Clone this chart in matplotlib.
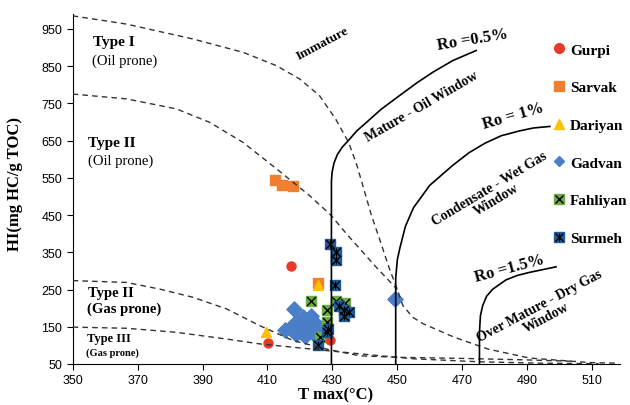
import matplotlib
matplotlib.use('Agg')
import matplotlib.pyplot as plt
from matplotlib.lines import Line2D

# kerogen type boundaries (Tmax, HI)
type1_t  = [350, 366.5, 387, 402.5, 412.8, 420, 426, 431, 435, 437.5, 439.5, 442, 444.5, 447.6, 450, 451.7, 454.8, 458, 467.5, 478, 490.7, 509, 518]
type1_hi = [985, 963, 923, 887, 851, 815, 771, 708, 645, 585, 525, 450, 386, 305, 250, 207, 175, 158, 122, 90, 66, 54, 52]

type2_t  = [350, 366.6, 382, 392.2, 402.5, 412.8, 423, 429.5, 434.3, 439.4, 443.5, 450]
type2_hi = [775, 762, 735, 699, 645, 574, 502, 450, 400, 350, 310, 250]

type2g_t  = [350, 366.6, 376.9, 387.1, 397.4, 407.6, 417.9, 428.2, 438.4, 450, 470, 490, 505]
type2g_hi = [274, 269, 251, 229, 198, 153, 113, 90, 72, 68, 65, 61, 57]

type3_t  = [350, 366.6, 382, 397.4, 407.6, 417.9, 428.2, 440, 455, 475, 495, 512]
type3_hi = [149, 146, 135, 117, 104, 95, 86, 76, 64, 56, 52, 51]

# vitrinite reflectance lines
ro05_t  = [429.7, 429.7, 429.9, 430.5, 431.5, 433, 435, 437.5, 440.5, 445, 450.7, 456, 461, 467.1, 474.3]
ro05_hi = [50, 540, 565, 590, 612, 632, 651, 676, 699, 734, 771, 805, 834, 865, 892]

ro10_t  = [449.5, 449.5, 450, 450.8, 452.5, 455, 460, 467, 472, 477, 482, 487.6, 492, 497]
ro10_hi = [50, 280, 330, 362, 420, 470, 530, 583, 617, 643, 663, 676, 684, 688]

ro15_t  = [475.3, 475.3, 475.6, 476.3, 477.5, 479.4, 483.5, 487, 490.7, 498.9]
ro15_hi = [50, 135, 180, 207, 232, 251, 276, 288, 296, 311]

# samples
gurpi_t  = [417.2, 410.2, 429.2]
gurpi_hi = [312, 106, 115]

sarvak_t  = [412.3, 414.5, 418.0, 425.6]
sarvak_hi = [545, 530, 527, 268]

dariyan_t  = [409.5, 421.5, 425.6]
dariyan_hi = [137, 143, 263]

gadvan_t  = [418.2, 421.0, 423.5, 418.9, 422.0, 425.1, 416.9, 420.0, 423.0, 425.6, 418.9, 421.5, 415.3, 424.0, 449.2]
gadvan_hi = [198, 175, 178, 162, 162, 157, 146, 146, 146, 149, 131, 126, 140, 132, 225]

fahliyan_t  = [423.5, 428.2, 428.2, 431.2, 433.8, 426.1]
fahliyan_hi = [220, 196, 162, 220, 215, 122]

surmeh_t  = [429.2, 431.2, 431.2, 430.7, 432.0, 433.6, 435.1, 433.6, 428.6, 428.2, 425.6]
surmeh_hi = [372, 352, 328, 262, 207, 195, 190, 180, 144, 135, 101]

c_gurpi, c_sarvak, c_dariyan = '#E8392B', '#F0802F', '#FFC000'
c_gadvan, c_fahliyan, c_surmeh = '#4A7EC7', '#6AAE45', '#1F5C99'

serif = 'Liberation Serif'

fig = plt.figure(figsize=(6.3, 4.06), dpi=100)
ax = fig.add_axes([72.7/630, 41/406, 547/630, 350/406])

ax.scatter(gurpi_t, gurpi_hi, s=42, color=c_gurpi, zorder=3)
ax.scatter(sarvak_t, sarvak_hi, s=52, marker='s', color=c_sarvak, zorder=3)
ax.scatter(dariyan_t, dariyan_hi, s=50, marker='^', color=c_dariyan, zorder=3)
ax.scatter(gadvan_t, gadvan_hi, s=60, marker='D', color=c_gadvan, zorder=3)
ax.scatter(fahliyan_t, fahliyan_hi, s=52, marker='s', color=c_fahliyan, zorder=3)
ax.scatter(fahliyan_t, fahliyan_hi, s=40, marker='x', color='black', linewidths=1.0, zorder=3)
ax.scatter(surmeh_t, surmeh_hi, s=52, marker='s', color=c_surmeh, zorder=3)
ax.scatter(surmeh_t, surmeh_hi, s=40, marker='x', color='black', linewidths=1.0, zorder=3)
ax.scatter(surmeh_t, surmeh_hi, s=30, marker='|', color='black', linewidths=0.8, zorder=3)

dash = dict(color='#333333', lw=1.0, ls=(0, (4, 3)), zorder=4)
ax.plot(type1_t, type1_hi, **dash)
ax.plot(type2_t, type2_hi, **dash)
ax.plot(type2g_t, type2g_hi, **dash)
ax.plot(type3_t, type3_hi, **dash)

solid = dict(color='black', lw=1.2, zorder=4)
ax.plot(ro05_t, ro05_hi, **solid)
ax.plot(ro10_t, ro10_hi, **solid)
ax.plot(ro15_t, ro15_hi, **solid)

ax.set_xlim(350, 518.5)
ax.set_ylim(50, 990)
ax.set_xticks(range(350, 511, 20))
ax.set_yticks(range(50, 951, 100))
ax.spines['top'].set_visible(False)
ax.spines['right'].set_visible(False)
ax.tick_params(direction='out', length=4, width=0.8, labelsize=9)
for lab in ax.get_xticklabels() + ax.get_yticklabels():
    lab.set_fontfamily('Liberation Sans')

# region labels
bold = dict(family=serif, fontweight='bold')
ax.text(356.2, 916, 'Type I', fontsize=11, va='center', **bold)
ax.text(356.0, 865, '(Oil prone)', fontsize=10.5, va='center', family=serif)
ax.text(354.8, 646, 'Type II', fontsize=11, va='center', **bold)
ax.text(354.8, 596, '(Oil prone)', fontsize=10.5, va='center', family=serif)
ax.text(354.8, 243, 'Type II', fontsize=10.5, va='center', **bold)
ax.text(354.5, 200, '(Gas prone)', fontsize=10.5, va='center', **bold)
ax.text(354.5, 119, 'Type III', fontsize=9, va='center', **bold)
ax.text(354.0, 81, '(Gas prone)', fontsize=7.5, va='center', **bold)

ax.text(427, 912, 'Immature', fontsize=9.5, rotation=28, ha='center', va='center', **bold)
ax.text(457.4, 744, 'Mature - Oil Window', fontsize=10, rotation=30, ha='center', va='center', **bold)
ax.text(479.4, 507, 'Condensate - Wet Gas\nWindow', fontsize=10, rotation=31, ha='center', va='center',
        multialignment='center', linespacing=1.0, **bold)
ax.text(494.8, 192, 'Over Mature - Dry Gas\nWindow', fontsize=10, rotation=28, ha='center', va='center',
        multialignment='center', linespacing=1.0, **bold)

ax.text(473.2, 923, 'Ro =0.5%', fontsize=12, rotation=9.5, ha='center', va='center', **bold)
ax.text(485.6, 717, 'Ro = 1%', fontsize=12, rotation=16, ha='center', va='center', **bold)
ax.text(484.6, 307, 'Ro =1.5%', fontsize=12, rotation=15, ha='center', va='center', **bold)

fig.text(15/630, 1 - 184/406, 'HI(mg HC/g TOC)', rotation=90, ha='center', va='center',
         fontsize=12, **bold)
fig.text(336/630, 1 - 395/406, 'T max(°C)', ha='center', va='center', fontsize=12, **bold)

# legend
h_gurpi = Line2D([], [], ls='', marker='o', ms=7, color=c_gurpi)
h_sarvak = Line2D([], [], ls='', marker='s', ms=7, color=c_sarvak)
h_dariyan = Line2D([], [], ls='', marker='^', ms=7, color=c_dariyan)
h_gadvan = Line2D([], [], ls='', marker='D', ms=5.5, color=c_gadvan)
h_fahl = (Line2D([], [], ls='', marker='s', ms=7, color=c_fahliyan),
          Line2D([], [], ls='', marker='x', ms=6, mew=1.0, color='black'))
h_surm = (Line2D([], [], ls='', marker='s', ms=7, color=c_surmeh),
          Line2D([], [], ls='', marker='x', ms=6, mew=1.0, color='black'),
          Line2D([], [], ls='', marker='|', ms=6, mew=0.8, color='black'))
fig.legend([h_gurpi, h_sarvak, h_dariyan, h_gadvan, h_fahl, h_surm],
           ['Gurpi', 'Sarvak', 'Dariyan', 'Gadvan', 'Fahliyan', 'Surmeh'],
           loc='upper left', bbox_to_anchor=(553/630, 1 - 44/406), frameon=False,
           handlelength=0.8, handletextpad=0.3, labelspacing=1.57, borderpad=0, borderaxespad=0,
           prop=dict(family=serif, weight='bold', size=11))

fig.savefig('out.png', dpi=100)
